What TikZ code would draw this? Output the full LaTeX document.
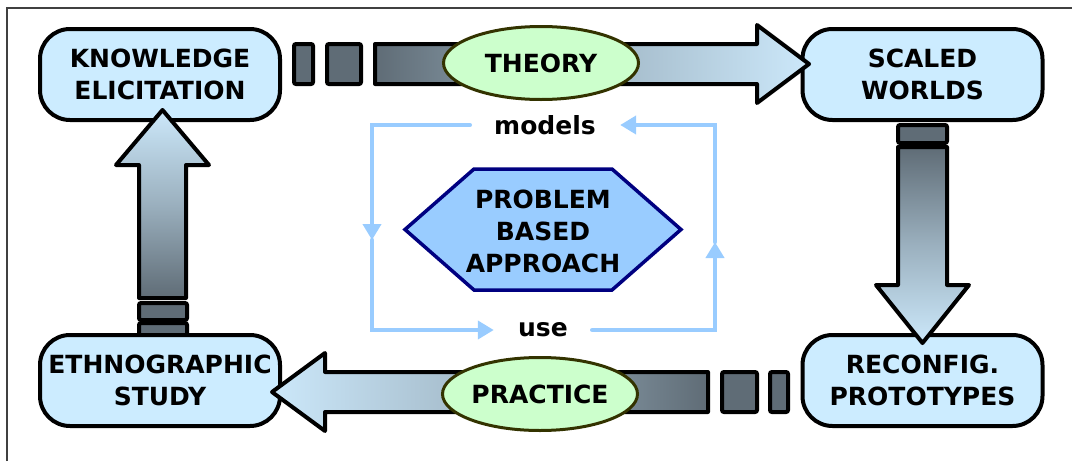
\documentclass[tikz,border=0pt]{standalone}
\usepackage{fontspec}
\setmainfont{DejaVu Sans}
\usetikzlibrary{shapes.geometric,arrows.meta}
\definecolor{boxblue}{RGB}{204,236,255}
\definecolor{ovalgreen}{RGB}{204,255,204}
\definecolor{ovalrim}{RGB}{51,51,0}
\definecolor{hexblue}{RGB}{153,204,255}
\definecolor{hexrim}{RGB}{0,0,128}
\definecolor{loopblue}{RGB}{153,204,255}
\definecolor{slate}{RGB}{95,108,118}
\definecolor{pale}{RGB}{204,232,250}

\begin{document}
\begin{tikzpicture}[x=0.5pt,y=-0.5pt,
    font=\fontsize{12.5}{16}\selectfont\bfseries,
    stagebox/.style={draw,line width=2pt,fill=boxblue,rounded corners=15pt,
      minimum width=120pt,minimum height=45.5pt,align=center,inner sep=0pt},
    ideaoval/.style={ellipse,draw=ovalrim,line width=1.5pt,fill=ovalgreen,
      minimum width=97.5pt,minimum height=36.5pt,inner sep=0pt},
    fatarrow/.style={draw,line width=2pt,line join=round},
    chipbox/.style={draw,line width=2pt,fill=slate,rounded corners=1pt},
    loopline/.style={draw=loopblue,line width=2.2pt,line cap=round},
    looplabel/.style={inner xsep=12pt,inner ysep=0pt}]
  \useasboundingbox (0,0) rectangle (1072,461);

  % frame
  \draw[black!75,line width=1pt] (7,461) -- (7,8) -- (1072,8);

  % chips under the lower left box
  \draw[chipbox] (139,303) rectangle (187,320);
  \draw[chipbox] (139,323) rectangle (187,345);

  % the four stages
  \node[stagebox] (ke) at (160,74.5) {KNOWLEDGE\\ELICITATION};
  \node[stagebox] (sw) at (922.5,74.5) {SCALED\\WORLDS};
  \node[stagebox] (es) at (160,380.5) {ETHNOGRAPHIC\\STUDY};
  \node[stagebox] (rp) at (922.5,380.5) {RECONFIG.\\PROTOTYPES};

  % top: knowledge elicitation -> scaled worlds
  \draw[chipbox] (294,44) rectangle (313,84);
  \draw[chipbox] (327,44) rectangle (361,84);
  \draw[fatarrow,left color=slate,right color=pale,middle color=slate!40!pale]
    (375,44) -- (757,44) -- (757,25) -- (809,64) -- (757,103) -- (757,84) -- (375,84) -- cycle;

  % right: scaled worlds -> prototypes
  \draw[chipbox] (898,125) rectangle (947,143);
  \draw[fatarrow,top color=slate,bottom color=pale,middle color=slate!45!pale]
    (898,147) -- (947,147) -- (947,285) -- (969,285) -- (922.5,343) -- (876,285) -- (898,285) -- cycle;

  % bottom: prototypes -> ethnographic study
  \draw[chipbox] (770,372) rectangle (788,412);
  \draw[chipbox] (722,372) rectangle (757,412);
  \draw[fatarrow,left color=pale,right color=slate,middle color=slate!40!pale]
    (708,372) -- (325,372) -- (325,353) -- (272,392) -- (325,431) -- (325,412) -- (708,412) -- cycle;

  % left: ethnographic study -> knowledge elicitation
  \draw[fatarrow,top color=pale,bottom color=slate,middle color=slate!45!pale]
    (139,298) -- (139,165) -- (116,165) -- (162.5,110) -- (209,165) -- (186,165) -- (186,298) -- cycle;

  \node[ideaoval] (theory) at (541,63) {THEORY};
  \node[ideaoval] (practice) at (540,394) {PRACTICE};

  % centre
  \path[draw=hexrim,fill=hexblue,line width=1.75pt,line join=miter]
    (405,229.5) -- (474,169) -- (612,169) -- (681,229.5) -- (612,290) -- (474,290) -- cycle;
  \node[align=center,inner sep=0pt] (pba) at (543,231) {PROBLEM\\BASED\\APPROACH};

  \node[looplabel] (mdl) at (545,125) {models};
  \node[looplabel] (use) at (543,330) {use};
  \coordinate (lmid) at (372,240);
  \coordinate (rmid) at (715,242);
  \draw[loopline,-{Triangle[width=9pt,length=8pt]}] (mdl.west) -| (lmid);
  \draw[loopline,-{Triangle[width=9pt,length=8pt]}] (lmid) |- (use.west);
  \draw[loopline,-{Triangle[width=9pt,length=8pt]}] (use.east) -| (rmid);
  \draw[loopline,-{Triangle[width=9pt,length=8pt]}] (rmid) |- (mdl.east);
\end{tikzpicture}
\end{document}
